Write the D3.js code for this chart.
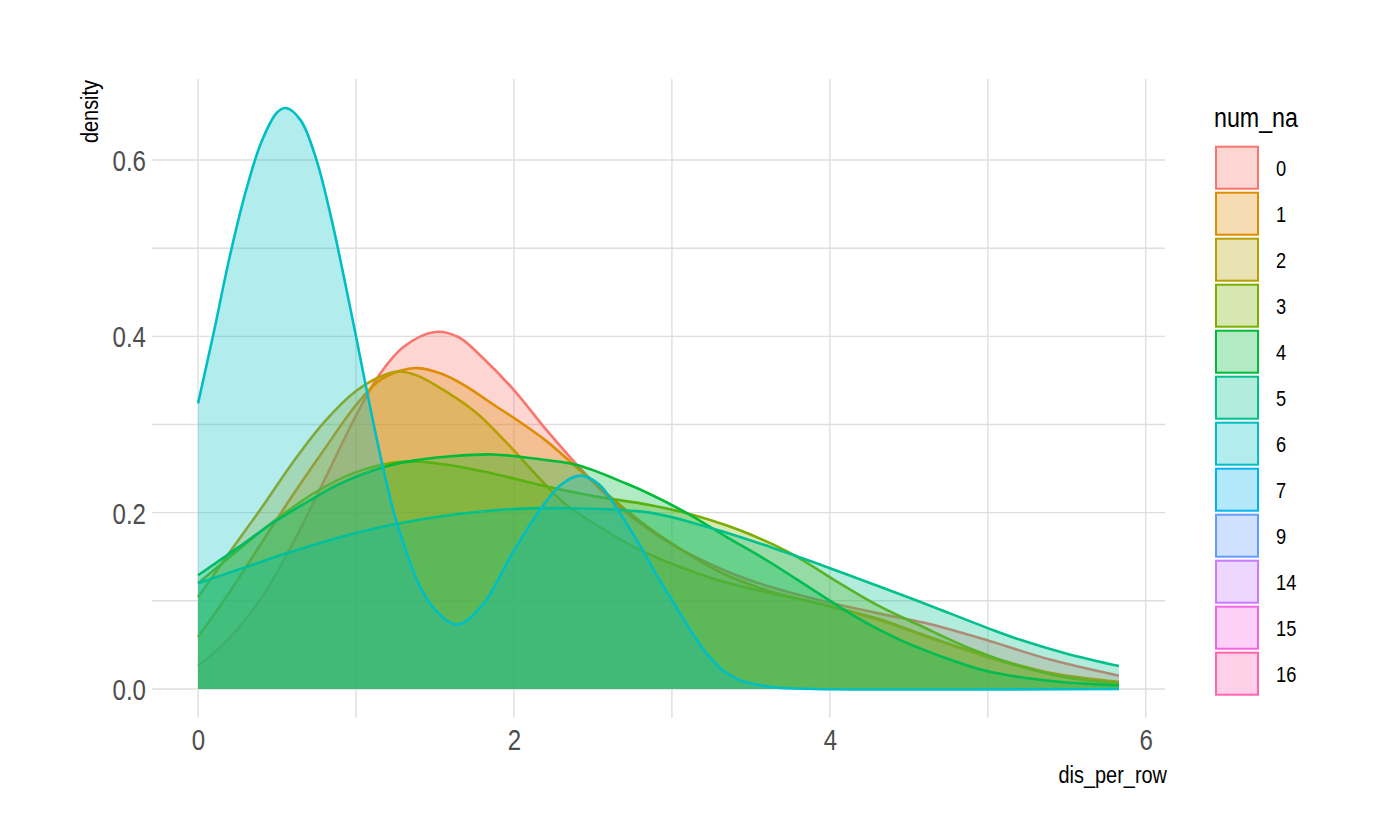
<!DOCTYPE html>
<html>
<head>
<meta charset="utf-8">
<script src="https://cdn.jsdelivr.net/npm/d3@7"></script>
<style>
  html, body { margin: 0; padding: 0; background: #fff; }
  svg text { font-family: "Liberation Sans", Arial, sans-serif; }
</style>
</head>
<body>
<svg id="chart" width="1400" height="840"></svg>
<script>
(function() {
  'use strict';

  // legend levels of num_na (only 0..6 have a density curve)
  var levels = ['0', '1', '2', '3', '4', '5', '6', '7', '9', '14', '15', '16'];

  // ggplot hue palette for 12 levels
  var palette = ['#F8766D', '#DE8C00', '#B79F00', '#7CAE00', '#00BA38', '#00C08B',
    '#00BFC4', '#00B4F0', '#619CFF', '#C77CFF', '#F564E3', '#FF64B0'];

  var xTicks = [0, 2, 4, 6];
  var yTicks = [0, 0.2, 0.4, 0.6];
  var xMinor = [1, 3, 5];
  var yMinor = [0.1, 0.3, 0.5];

  // density readings, [dis_per_row, density]
  var dens0 = [[0, 0.026], [0.2, 0.058], [0.4, 0.103], [0.6, 0.165], [0.8, 0.237], [1.0, 0.31],
    [1.15, 0.357], [1.3, 0.388], [1.5, 0.405], [1.65, 0.399], [1.8, 0.376], [2.0, 0.339],
    [2.2, 0.295], [2.4, 0.254], [2.6, 0.217], [2.8, 0.188], [3.0, 0.164], [3.3, 0.137],
    [3.6, 0.117], [3.95, 0.1], [4.3, 0.086], [4.6, 0.075], [5.0, 0.055], [5.4, 0.033], [5.83, 0.015]];

  var dens1 = [[0, 0.059], [0.2, 0.11], [0.4, 0.165], [0.6, 0.22], [0.8, 0.272], [1.0, 0.322],
    [1.15, 0.35], [1.28, 0.361], [1.39, 0.364], [1.55, 0.357], [1.7, 0.343], [1.85, 0.325],
    [2.02, 0.305], [2.2, 0.282], [2.33, 0.262], [2.54, 0.229], [2.8, 0.19], [3.0, 0.165],
    [3.3, 0.133], [3.6, 0.112], [3.95, 0.096], [4.3, 0.079], [4.6, 0.06], [5.0, 0.037],
    [5.4, 0.018], [5.83, 0.008]];

  var dens2 = [[0, 0.104], [0.2, 0.155], [0.4, 0.205], [0.6, 0.257], [0.8, 0.303], [1.0, 0.338],
    [1.15, 0.354], [1.26, 0.36], [1.38, 0.356], [1.5, 0.345], [1.75, 0.315], [1.95, 0.28],
    [2.15, 0.241], [2.33, 0.209], [2.54, 0.184], [2.75, 0.162], [3.0, 0.142], [3.3, 0.123],
    [3.64, 0.108], [4.0, 0.094], [4.3, 0.08], [4.6, 0.061], [5.0, 0.036], [5.4, 0.017], [5.83, 0.006]];

  var dens3 = [[0, 0.12], [0.25, 0.157], [0.5, 0.193], [0.75, 0.224], [1.0, 0.246], [1.3, 0.258],
    [1.55, 0.255], [1.8, 0.247], [2.2, 0.23], [2.5, 0.219], [2.85, 0.209], [3.1, 0.199],
    [3.43, 0.18], [3.75, 0.154], [4.06, 0.12], [4.3, 0.095], [4.57, 0.072], [4.9, 0.045],
    [5.2, 0.026], [5.5, 0.013], [5.83, 0.006]];

  var dens4 = [[0, 0.129], [0.25, 0.16], [0.47, 0.188], [0.7, 0.213], [0.9, 0.233], [1.2, 0.253],
    [1.4, 0.26], [1.6, 0.264], [1.87, 0.266], [2.1, 0.262], [2.4, 0.254], [2.71, 0.233],
    [2.85, 0.222], [3.1, 0.199], [3.35, 0.172], [3.6, 0.146], [3.94, 0.107], [4.2, 0.078],
    [4.44, 0.056], [4.75, 0.034], [5.0, 0.02], [5.4, 0.009], [5.83, 0.004]];

  var dens5 = [[0, 0.12], [0.3, 0.138], [0.58, 0.155], [1.0, 0.177], [1.4, 0.192], [1.9, 0.203],
    [2.33, 0.205], [2.86, 0.2], [3.22, 0.184], [3.64, 0.16], [3.94, 0.141], [4.3, 0.117],
    [4.57, 0.099], [5.0, 0.069], [5.2, 0.056], [5.5, 0.04], [5.83, 0.026]];

  var dens6 = [[0, 0.324], [0.1, 0.405], [0.2, 0.49], [0.3, 0.563], [0.4, 0.62], [0.5, 0.654],
    [0.557, 0.659], [0.65, 0.645], [0.75, 0.6], [0.85, 0.529], [0.95, 0.444], [1.0, 0.4],
    [1.08, 0.328], [1.16, 0.26], [1.24, 0.2], [1.32, 0.155], [1.4, 0.118], [1.5, 0.09],
    [1.64, 0.073], [1.8, 0.095], [1.99, 0.154], [2.18, 0.207], [2.3, 0.232], [2.42, 0.242],
    [2.54, 0.232], [2.65, 0.205], [2.8, 0.162], [2.9, 0.13], [3.01, 0.098], [3.12, 0.066],
    [3.22, 0.04], [3.33, 0.02], [3.43, 0.01], [3.64, 0.002], [3.9, 0], [5.83, 0]];

  var series = [dens0, dens1, dens2, dens3, dens4, dens5, dens6];

  var panel = { left: 152, right: 1165, top: 79, bottom: 718 };
  var narrow = 0.83; // glyphs in the reference are narrower than Arial
  var svg = d3.select('#chart');

  // data range + 5% expansion, like ggplot
  var all = d3.merge(series);
  var xr = d3.extent(all, function(d) { return d[0]; }),
    yr = [0, d3.max(all, function(d) { return d[1]; })],
    xpad = (xr[1] - xr[0]) * 0.05,
    ypad = (yr[1] - yr[0]) * 0.05;

  var x = d3.scaleLinear().domain([xr[0] - xpad, xr[1] + xpad]).range([panel.left, panel.right]);
  var y = d3.scaleLinear().domain([yr[0] - ypad, yr[1] + ypad]).range([panel.bottom, panel.top]);

  // grid
  var grid = svg.append('g').attr('class', 'grid');
  grid.selectAll('line.v')
    .data(xTicks.concat(xMinor))
    .enter().append('line')
    .attr('x1', function(d) { return x(d); })
    .attr('x2', function(d) { return x(d); })
    .attr('y1', panel.top)
    .attr('y2', panel.bottom)
    .attr('stroke', '#d6d6d6')
    .attr('stroke-width', 1.1);
  grid.selectAll('line.h')
    .data(yTicks.concat(yMinor))
    .enter().append('line')
    .attr('x1', panel.left)
    .attr('x2', panel.right)
    .attr('y1', function(d) { return y(d); })
    .attr('y2', function(d) { return y(d); })
    .attr('stroke', '#dedede')
    .attr('stroke-width', 1.4);

  // densities, drawn group by group (fill then upper outline)
  var curve = d3.curveCatmullRom.alpha(0.5);
  var area = d3.area()
    .curve(curve)
    .x(function(d) { return x(d[0]); })
    .y0(y(0))
    .y1(function(d) { return y(d[1]); });
  var line = d3.line()
    .curve(curve)
    .x(function(d) { return x(d[0]); })
    .y(function(d) { return y(d[1]); });

  var g = svg.append('g').attr('class', 'densities');
  series.forEach(function(s, i) {
    var grp = g.append('g');
    grp.append('path')
      .attr('d', area(s))
      .attr('fill', palette[i])
      .attr('fill-opacity', 0.3)
      .attr('stroke', 'none');
    grp.append('path')
      .attr('d', line(s))
      .attr('fill', 'none')
      .attr('stroke', palette[i])
      .attr('stroke-width', 2.6);
  });

  // axes (theme_minimal: labels only)
  var xAxis = d3.axisBottom(x).tickValues(xTicks).tickSize(0).tickPadding(0).tickFormat(d3.format('d'));
  var yAxis = d3.axisLeft(y).tickValues(yTicks).tickSize(0).tickPadding(0).tickFormat(d3.format('.1f'));

  var gx = svg.append('g').attr('transform', 'translate(0,750)').call(xAxis);
  var gy = svg.append('g').attr('transform', 'translate(' + (panel.left - 6) + ',0)').call(yAxis);
  [gx, gy].forEach(function(a) {
    a.select('.domain').remove();
    a.selectAll('text')
      .attr('fill', '#4d4d4d')
      .attr('x', 0)
      .attr('y', 0)
      .attr('transform', 'scale(' + narrow + ',1)')
      .style('font-size', '29px')
      .style('font-family', '"Liberation Sans", Arial, sans-serif');
  });
  gx.selectAll('text').attr('dy', 0);
  gy.selectAll('text').attr('dy', '0.358em');

  svg.append('text')
    .attr('transform', 'translate(' + (panel.right + 2) + ',783) scale(' + narrow + ',1)')
    .attr('text-anchor', 'end')
    .style('font-size', '24px')
    .text('dis_per_row');

  svg.append('text')
    .attr('transform', 'translate(98,' + (panel.top + 1) + ') rotate(-90) scale(' + narrow + ',1)')
    .attr('text-anchor', 'end')
    .style('font-size', '24px')
    .text('density');

  // legend
  var lg = svg.append('g').attr('transform', 'translate(1214,0)');
  lg.append('text')
    .attr('transform', 'translate(0,127) scale(' + narrow + ',1)')
    .style('font-size', '28px')
    .text('num_na');

  var item = lg.selectAll('g.item')
    .data(levels)
    .enter().append('g')
    .attr('transform', function(d, i) { return 'translate(0,' + (145.7 + i * 46) + ')'; });
  item.append('rect')
    .attr('x', 2)
    .attr('y', 1)
    .attr('width', 42)
    .attr('height', 42)
    .attr('fill', function(d, i) { return palette[i]; })
    .attr('fill-opacity', 0.3)
    .attr('stroke', function(d, i) { return palette[i]; })
    .attr('stroke-width', 2);
  item.append('text')
    .attr('transform', 'translate(62,22) scale(' + narrow + ',1)')
    .attr('dy', '0.358em')
    .style('font-size', '22px')
    .text(function(d) { return d; });
})();
</script>
</body>
</html>
